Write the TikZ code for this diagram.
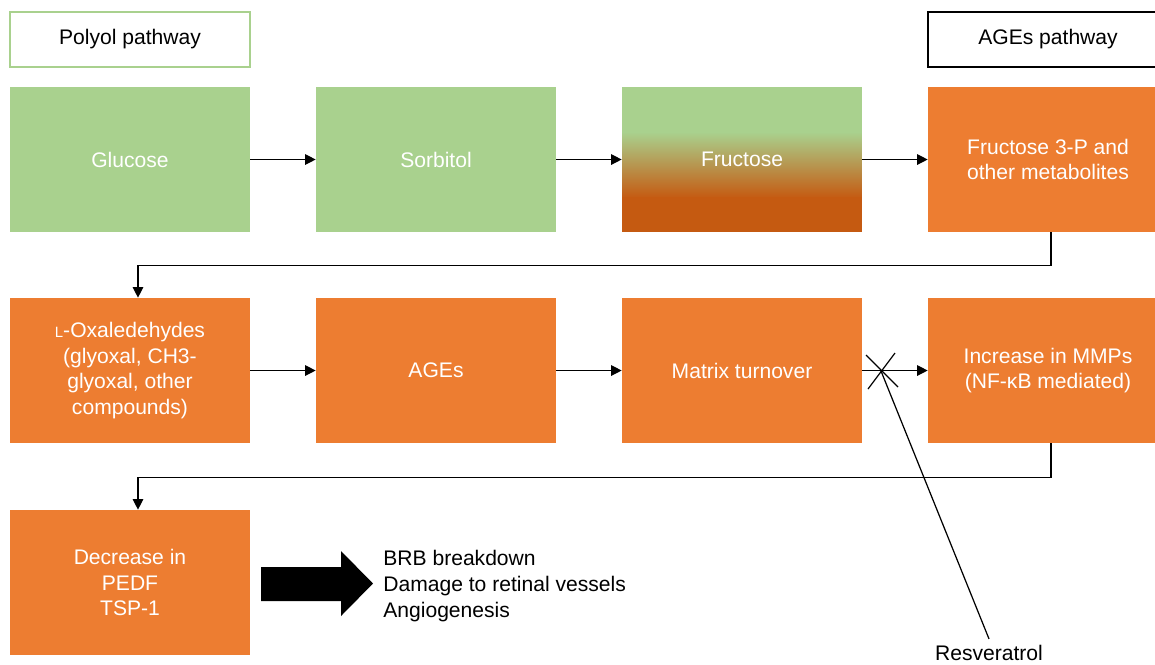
\documentclass[tikz,border=0pt]{standalone}
\usepackage{fontspec}
\setmainfont{Liberation Sans}
\usetikzlibrary{arrows.meta}
\definecolor{agreen}{HTML}{A9D18E}
\definecolor{aorange}{HTML}{ED7D31}
\definecolor{adark}{HTML}{C55A11}
\tikzset{
  stepbox/.style={inner sep=0pt, minimum width=4.8cm, minimum height=2.9cm,
    text=white, align=center, font=\fontsize{12}{14.7}\selectfont},
  greenbox/.style={stepbox, fill=agreen},
  orangebox/.style={stepbox, fill=aorange},
  headbox/.style={inner sep=0pt, minimum width=4.8cm, minimum height=1.1cm,
    fill=white, font=\fontsize{12}{14.7}\selectfont},
  arr/.style={-{Triangle[length=6pt,width=6pt]}, line width=0.7pt},
  plain/.style={line width=0.7pt}
}
\begin{document}
\begin{tikzpicture}[x=0.02cm, y=-0.02cm]
    \useasboundingbox (0,0) rectangle (1155,664);
    \begin{scope}
    \clip (0,0) rectangle (1155,664);
    % headings
    \node[headbox, draw=agreen, line width=1pt] (polyol) at (130, 39.5) {Polyol pathway};
    \node[headbox, draw=black, line width=0.7pt] (agesway) at (1048, 39.5) {AGEs pathway};
    % first row
    \node[greenbox] (glucose) at (130, 159.5) {Glucose};
    \node[greenbox] (sorbitol) at (436, 159.5) {Sorbitol};
    \node[stepbox, path picture={
        \fill[agreen] (path picture bounding box.north west) rectangle ([yshift=-0.92cm]path picture bounding box.north east);
        \shade[top color=agreen, bottom color=adark] ([yshift=-0.9cm]path picture bounding box.north west) rectangle ([yshift=-2.22cm]path picture bounding box.north east);
        \fill[adark] ([yshift=-2.2cm]path picture bounding box.north west) rectangle (path picture bounding box.south east);
      }] (fructose) at (742, 159.5) {Fructose};
    \node[orangebox] (fru3p) at (1048, 159.5) {Fructose 3-P and\\other metabolites};
    \draw[arr] (glucose) -- (sorbitol);
    \draw[arr] (sorbitol) -- (fructose);
    \draw[arr] (fructose) -- (fru3p);
    % second row
    \node[orangebox] (oxal) at (130, 370.5) {{\fontsize{8.5}{10}\selectfont L}-Oxaledehydes\\(glyoxal, CH3-\\glyoxal, other\\compounds)};
    \node[orangebox] (ages) at (436, 370.5) {AGEs};
    \node[orangebox] (matrix) at (742, 370.5) {Matrix turnover};
    \node[orangebox] (mmps) at (1048, 370.5) {Increase in MMPs\\(NF-κB mediated)};
    \draw[arr] ([xshift=0.06cm]fru3p.south) -- ++(0,33) -| ([xshift=0.16cm]oxal.north);
    \draw[arr] (oxal) -- (ages);
    \draw[arr] (ages) -- (matrix);
    \draw[arr] (matrix) -- (mmps);
    % third row
    \node[orangebox] (decrease) at (130, 582.5) {Decrease in\\PEDF\\TSP-1};
    \draw[arr] ([xshift=0.06cm]mmps.south) -- ++(0,34) -| ([xshift=0.16cm]decrease.north);
    \fill[black] (261,567) -- (341,567) -- (341,551) -- (373,583.5) -- (341,616) -- (341,601) -- (261,601) -- cycle;
    \node[anchor=west, align=left, inner sep=0pt, font=\fontsize{12}{14.7}\selectfont] (effects) at (383, 586) {BRB breakdown\\Damage to retinal vessels\\Angiogenesis};
    % inhibition
    \coordinate (block) at (881, 371);
    \draw[plain] (866,355) -- (898,387);
    \draw[plain] (895,353) -- (868,389);
    \node[inner sep=0pt, font=\fontsize{12}{14.7}\selectfont] (resv) at (989, 653) {Resveratrol};
    \draw[plain] (block) -- ([yshift=0.12cm]resv.north);
    \end{scope}
\end{tikzpicture}
\end{document}
